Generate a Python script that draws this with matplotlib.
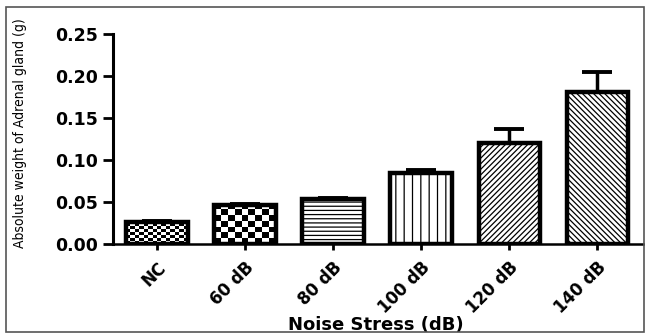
import numpy as np
import matplotlib
matplotlib.use("Agg")
import matplotlib.pyplot as plt
from matplotlib.patches import Rectangle
from matplotlib import font_manager

# ---- data ----
categories = ["NC", "60 dB", "80 dB", "100 dB", "120 dB", "140 dB"]
means = [0.026, 0.047, 0.054, 0.085, 0.120, 0.181]
sem = [0.001, 0.001, 0.001, 0.003, 0.017, 0.024]
y_ticks = [0.00, 0.05, 0.10, 0.15, 0.20, 0.25]
y_label = "Absolute weight of Adrenal gland (g)"
x_label = "Noise Stress (dB)"

plt.rcParams["hatch.linewidth"] = 0.9

names = {f.name for f in font_manager.fontManager.ttflist}
condensed = [f for f in font_manager.fontManager.ttflist
             if f.name == "DejaVu Sans" and "ondensed" in str(f.stretch)]
if "Liberation Sans Narrow" in names:
    ylab_kw = dict(family="Liberation Sans Narrow", fontsize=11)
elif condensed:
    ylab_kw = dict(family="DejaVu Sans", fontstretch="condensed", fontsize=10)
else:
    ylab_kw = dict(family="Liberation Sans", fontsize=9.8)

fig = plt.figure(figsize=(6.45, 3.33), dpi=100)
ax = fig.add_axes([0.1752, 0.2673, 0.822, 0.6306])

x = np.arange(len(categories))
hatches = [None, None, "----", "||", "//////", "\\\\\\\\\\\\"]
# checkerboard cell sizes (data units) for the first two bars
checker = {0: (0.05, 0.0036), 1: (0.08, 0.0068)}

width = 0.7
bars = ax.bar(x, means, width=width, color="white", edgecolor="black",
              linewidth=0, zorder=2)
for i, b in enumerate(bars):
    if hatches[i]:
        b.set_hatch(hatches[i])
    if i in checker:
        cw, chh = checker[i]
        x0, y0 = b.get_x(), b.get_y()
        w, h = b.get_width(), b.get_height()
        nx = max(1, int(round(w / cw)))
        ny = max(1, int(np.ceil(h / chh)))
        ii, jj = np.indices((ny, nx))
        img = ((ii + jj) % 2).astype(float)
        im = ax.imshow(img, cmap="gray", vmin=0, vmax=1, interpolation="nearest",
                       extent=[x0, x0 + w, y0, y0 + ny * chh], origin="lower",
                       aspect="auto", zorder=2.5)
        im.set_clip_path(b)

ax.errorbar(x, means, yerr=[np.zeros(len(means)), sem], fmt="none",
            ecolor="black", elinewidth=2.5, capsize=11, capthick=2.8, zorder=3)
ax.bar(x, means, width=width, fill=False, edgecolor="black", linewidth=3.2,
       zorder=4)

ax.set_xlim(-0.5, 5.52)
ax.set_ylim(0, 0.25)
ax.set_yticks(y_ticks)
ax.set_yticklabels([f"{v:.2f}" for v in y_ticks], fontsize=12.5,
                   fontweight="bold", family="DejaVu Sans")
ax.set_xticks(x)
ax.set_xticklabels(categories, rotation=45, ha="right", va="top",
                   rotation_mode="anchor", fontsize=12, fontweight="bold",
                   family="DejaVu Sans")

for s in ["top", "right"]:
    ax.spines[s].set_visible(False)
ax.spines["left"].set_linewidth(2.2)
ax.spines["bottom"].set_linewidth(1.8)
ax.tick_params(axis="y", length=7, width=2, pad=3.5)
ax.tick_params(axis="x", length=4.5, width=2, pad=6)

ax.set_ylabel(y_label, **ylab_kw)
ax.yaxis.set_label_coords(-0.162, 0.53)
ax.set_xlabel(x_label, fontsize=13, fontweight="bold", family="DejaVu Sans")
ax.xaxis.set_label_coords(0.496, -0.343)

fig.patches.append(Rectangle((0.0093, 0.003), 0.989, 0.976,
                             transform=fig.transFigure, fill=False,
                             edgecolor="#555555", linewidth=1.2))

fig.savefig("out.png", dpi=100)
